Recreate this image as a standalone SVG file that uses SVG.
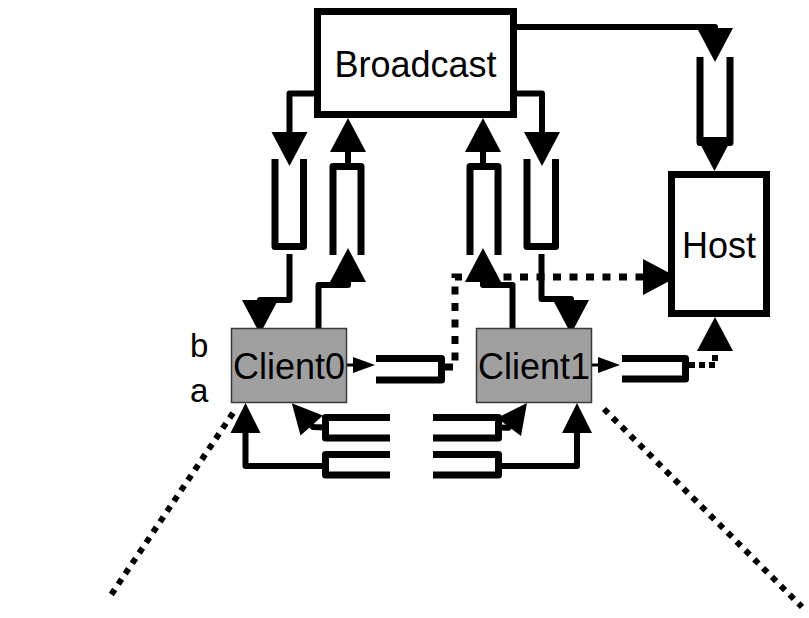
<svg xmlns="http://www.w3.org/2000/svg" width="809" height="618" viewBox="0 0 809 618">
  <style>
    .box { fill: #ffffff; stroke: #000000; stroke-width: 7; }
    .client { fill: #a0a0a0; stroke: #3a3a3a; stroke-width: 1.5; }
    .label { font-family: "Liberation Sans", Arial, sans-serif; font-size: 36px; fill: #000000; text-anchor: middle; }
    .side { font-family: "Liberation Sans", Arial, sans-serif; font-size: 33px; fill: #000000; }
    .buf { fill: none; stroke: #000000; stroke-width: 7; stroke-linejoin: round; stroke-linecap: butt; }
    .wire { fill: none; stroke: #000000; stroke-width: 6; stroke-linejoin: round; }
    .thin { fill: none; stroke: #000000; stroke-width: 3; }
    .dots { fill: none; stroke: #000000; stroke-width: 7; stroke-dasharray: 8 8.5; }
    .dots2 { fill: none; stroke: #000000; stroke-width: 6; stroke-dasharray: 6 4; }
    .zoom { fill: none; stroke: #000000; stroke-width: 6; stroke-dasharray: 6 6.5; }
  </style>
  <defs>
    <marker id="arrowL" markerUnits="userSpaceOnUse" markerWidth="34" markerHeight="36" refX="10" refY="18" orient="auto" overflow="visible">
      <path d="M0,0 L34,18 L0,36 Z" fill="#000000"/>
    </marker>
    <marker id="arrowM" markerUnits="userSpaceOnUse" markerWidth="30" markerHeight="30" refX="10" refY="15" orient="auto" overflow="visible">
      <path d="M0,0 L30,15 L0,30 Z" fill="#000000"/>
    </marker>
    <marker id="arrowS" markerUnits="userSpaceOnUse" markerWidth="22" markerHeight="16" refX="8" refY="8" orient="auto" overflow="visible">
      <path d="M0,0 L22,8 L0,16 Z" fill="#000000"/>
    </marker>
  </defs>

  <!-- queues / buffers and links -->
  <g id="connectors">
    <!-- Broadcast to Host -->
    <path class="wire" d="M517,27 H715 V38" marker-end="url(#arrowL)"/>
    <path class="buf" d="M700,57 V142.5 H730 V57"/>
    <path class="wire" d="M714.5,142.5 V147" marker-end="url(#arrowL)"/>

    <!-- Broadcast down to Client0 -->
    <path class="wire" d="M314,93.5 H289.5 V142" marker-end="url(#arrowL)"/>
    <path class="buf" d="M275,159 V246.5 H303.5 V159"/>
    <path class="wire" d="M289.5,254 V300 H260 V310" marker-end="url(#arrowL)"/>

    <!-- Client0 up to Broadcast -->
    <path class="wire" d="M318.5,328 V285 H348 V272" marker-end="url(#arrowL)"/>
    <path class="buf" d="M333,255 V166.5 H361 V255"/>
    <path class="wire" d="M348,166 V142" marker-end="url(#arrowL)"/>

    <!-- Client1 up to Broadcast -->
    <path class="wire" d="M512.5,328 V285 H483 V272" marker-end="url(#arrowL)"/>
    <path class="buf" d="M470,255 V166.5 H498 V255"/>
    <path class="wire" d="M483,166 V142" marker-end="url(#arrowL)"/>

    <!-- Broadcast down to Client1 -->
    <path class="wire" d="M517,93.5 H542 V142" marker-end="url(#arrowL)"/>
    <path class="buf" d="M527,159 V246.5 H555.5 V159"/>
    <path class="wire" d="M541.5,254 V299 H571 V310" marker-end="url(#arrowL)"/>

    <!-- Client0 outgoing to Host -->
    <path class="thin" d="M347,365 H361" marker-end="url(#arrowS)"/>
    <path class="buf" d="M376,358.5 H441.5 V380 H376"/>
    <path class="dots" d="M445,367 H455 V277 H653" marker-end="url(#arrowL)"/>

    <!-- Client1 outgoing to Host -->
    <path class="thin" d="M592,365 H606" marker-end="url(#arrowS)"/>
    <path class="buf" d="M622,358.5 H685.5 V379 H622"/>
    <path class="dots2" d="M689,365 H715 V341" marker-end="url(#arrowL)"/>

    <!-- lower queues between the clients -->
    <path class="buf" d="M390,417.5 H325.5 V438 H390"/>
    <path class="buf" d="M390,454.5 H325.5 V475 H390"/>
    <path class="buf" d="M433,417.5 H498.5 V438 H433"/>
    <path class="buf" d="M433,454.5 H498.5 V475 H433"/>
    <path class="wire" d="M325.5,427.5 L313,427 L305.1,418.1" marker-end="url(#arrowM)"/>
    <path class="wire" d="M325.5,466 H245.5 V423" marker-end="url(#arrowM)"/>
    <path class="wire" d="M498.5,427.5 L508.4,427.8 L515,419" marker-end="url(#arrowM)"/>
    <path class="wire" d="M498.5,466 H577 V423" marker-end="url(#arrowM)"/>

    <!-- detail guide lines -->
    <path class="zoom" d="M233,413 L109,598"/>
    <path class="zoom" d="M604,409 L802,607"/>
  </g>

  <g id="broadcast">
    <rect class="box" x="317.5" y="11.5" width="196" height="103"/>
    <text class="label" x="415.5" y="77">Broadcast</text>
  </g>

  <g id="host">
    <rect class="box" x="671.5" y="174.5" width="95" height="139"/>
    <text class="label" x="719" y="258">Host</text>
  </g>

  <g id="client0">
    <rect class="client" x="231.5" y="328.5" width="115" height="74"/>
    <text class="label" x="289" y="379">Client0</text>
  </g>

  <g id="client1">
    <rect class="client" x="476.5" y="328.5" width="115" height="74"/>
    <text class="label" x="534" y="379">Client1</text>
  </g>

  <g id="port-labels">
    <text class="side" x="190" y="357">b</text>
    <text class="side" x="190" y="402">a</text>
  </g>
</svg>
